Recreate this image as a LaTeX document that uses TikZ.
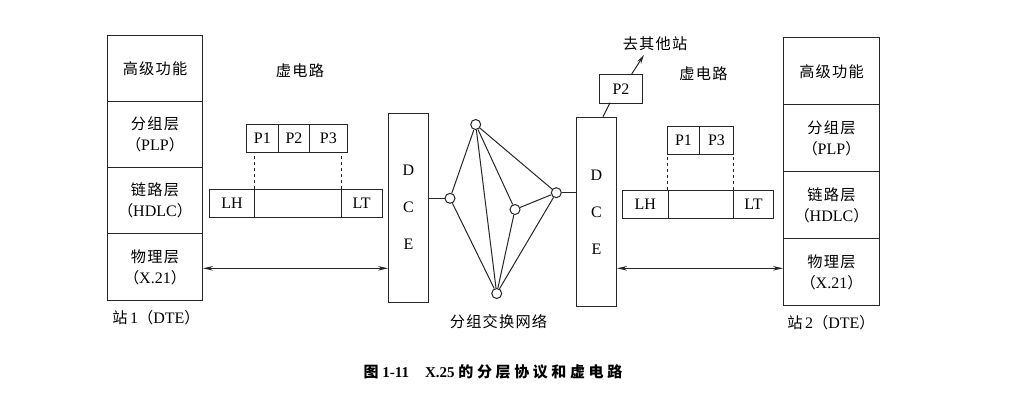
\documentclass[tikz,border=0pt]{standalone}
\usepackage{fontspec}
\setmainfont{Liberation Serif}
\newfontfamily\cjk[LetterSpace=8,Scale=0.95]{Noto Sans CJK SC}
\newfontfamily\cjkcap[LetterSpace=24]{Noto Sans CJK SC}
\newcommand{\zh}[1]{{\cjk #1}}
\usetikzlibrary{arrows.meta,calc}
\tikzset{
  ln/.style={draw=black!85, line width=1pt},
  layer/.style={ln, rectangle, inner sep=0pt, anchor=north west, minimum width=95pt, minimum height=66.25pt, align=center, font=\fontsize{16}{21}\selectfont},
  layerb/.style={layer, minimum width=96pt, minimum height=66.9pt},
  cell/.style={ln, rectangle, inner sep=0pt, anchor=north west, minimum height=28pt, font=\fontsize{16}{18}\selectfont},
  dcebox/.style={ln, rectangle, inner sep=0pt, anchor=north west, minimum width=40pt, align=center, font=\fontsize{16}{37}\selectfont},
  sw/.style={ln, circle, inner sep=0pt, minimum size=10pt, fill=white},
  lbl/.style={inner sep=0pt, font=\fontsize{16}{17}\selectfont},
  dbl/.style={ln, {Stealth[length=10pt,width=4.5pt]}-{Stealth[length=10pt,width=4.5pt]}},
  one/.style={ln, -{Stealth[length=9pt,width=4.5pt]}},
}
\begin{document}
\begin{tikzpicture}[x=1pt,y=-1pt]
\useasboundingbox (0,0) rectangle (1010,405);
% Station 1
\node[layer, minimum height=65.7pt] (s1a) at (107,35) {\zh{高级功能}};
\node[layer] (s1b) at (107,100.7) {\zh{分组层}\\\zh{（}PLP\zh{）}};
\node[layer] (s1c) at (107,166.7) {\zh{链路层}\\\zh{（}HDLC\zh{）}};
\node[layer, minimum height=67pt] (s1d) at (107,233) {\zh{物理层}\\\zh{（}X.21\zh{）}};
% Station 2
\node[layerb] (s2a) at (783,37.3) {\zh{高级功能}};
\node[layerb] (s2b) at (783,104.2) {\zh{分组层}\\\zh{（}PLP\zh{）}};
\node[layerb] (s2c) at (783,171.1) {\zh{链路层}\\\zh{（}HDLC\zh{）}};
\node[layerb] (s2d) at (783,238) {\zh{物理层}\\\zh{（}X.21\zh{）}};
% left packet
\node[cell, minimum width=32.3pt] (p1) at (245.7,124) {P1};
\node[cell, minimum width=31pt] (p2) at (278,124) {P2};
\node[cell, minimum width=37.7pt] (p3) at (309,124) {P3};
\node[cell, minimum width=45pt] (lh1) at (209,189) {LH};
\node[cell, minimum width=86.7pt] (mid1) at (254,189) {};
\node[cell, minimum width=41pt] (lt1) at (340.7,189) {LT};
\draw[ln, dashed] (mid1.north west) -- (mid1.north west |- p1.south);
\draw[ln, dashed] (mid1.north east) -- (mid1.north east |- p3.south);
% right packet
\node[cell, minimum width=32.6pt] (q1) at (666.7,125.7) {P1};
\node[cell, minimum width=33.4pt] (q3) at (699.3,125.7) {P3};
\node[cell, minimum width=46pt] (lh2) at (621.7,190) {LH};
\node[cell, minimum width=65pt] (mid2) at (667.7,190) {};
\node[cell, minimum width=40.6pt] (lt2) at (732.7,190) {LT};
\draw[ln, dashed] (mid2.north west) -- (mid2.north west |- q1.south);
\draw[ln, dashed] (mid2.north east) -- (mid2.north east |- q3.south);
% DCE boxes
\node[dcebox, minimum height=189pt] (dce1) at (388,112.7) {D\\C\\E};
\node[dcebox, minimum height=189.3pt] (dce2) at (576,116.7) {D\\C\\E};
% P2 to other station
\node[cell, minimum width=42.4pt, minimum height=28.7pt] (px) at (599.3,74) {P2};
\coordinate (dtop) at (603,116.7);
\coordinate (pxb) at (610,102.7);
\draw[ln] (dtop) -- (pxb);
\coordinate (pxt) at (631.7,74);
\coordinate (otherend) at (644,55);
\draw[one] (pxt) -- (otherend);
\node[lbl] (other) at (655,44) {\zh{去其他站}};
% network
\node[sw] (nt) at (475.7,124.5) {};
\node[sw] (nl) at (450,198.3) {};
\node[sw] (nm) at (515,209.5) {};
\node[sw] (nr) at (556.3,192.7) {};
\node[sw] (nb) at (496.7,293.5) {};
\draw[ln] (nt) -- (nl) (nt) -- (nb) (nt) -- (nm) (nt) -- (nr)
          (nl) -- (nb) (nm) -- (nb) (nm) -- (nr) (nr) -- (nb);
\draw[ln] (dce1.east |- nl) -- (nl);
\draw[ln] (nr) -- (dce2.west |- nr);
% physical arrows
\coordinate (ay) at (0,268.3);
\draw[dbl] (s1d.east |- ay) -- (dce1.west |- ay);
\draw[dbl] (dce2.east |- ay) -- (s2d.west |- ay);
% labels
\node[lbl] (vc1) at (300,71) {\zh{虚电路}};
\node[lbl] (vc2) at (703.5,73.5) {\zh{虚电路}};
\node[lbl] (st1) at (156,318) {\zh{站}\,1\zh{（}DTE\zh{）}};
\node[lbl] (st2) at (831,323) {\zh{站}\,2\zh{（}DTE\zh{）}};
\node[lbl] (net) at (498.5,322) {\zh{分组交换网络}};
\node[lbl, font=\fontsize{15}{17}\selectfont\bfseries] (cap) at (493,372) {{\cjkcap 图} 1-11\hspace{16pt}X.25 {\cjkcap 的分层协议和虚电路}};
\end{tikzpicture}
\end{document}
